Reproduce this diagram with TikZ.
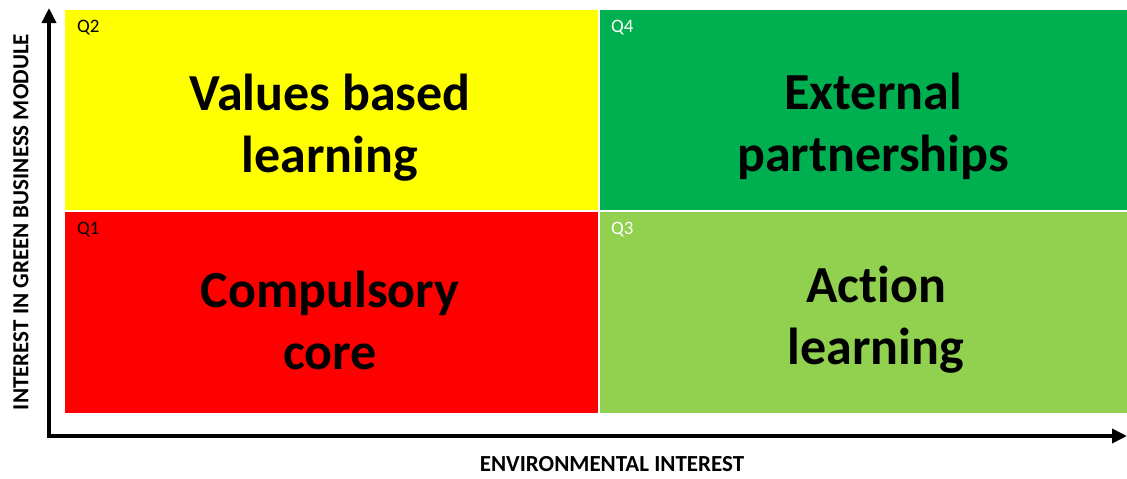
\documentclass[tikz,border=0pt]{standalone}
\usepackage{fontspec}
\setmainfont{Carlito}[Ligatures={NoCommon,NoRare}]
\usepackage{tikz}
\usetikzlibrary{arrows.meta}
\usetikzlibrary{positioning}

\definecolor{qyellow}{HTML}{FFFF00}
\definecolor{qred}{HTML}{FF0000}
\definecolor{qdark}{HTML}{00B050}
\definecolor{qlight}{HTML}{92D050}

\begin{document}
\begin{tikzpicture}[x=1pt, y=-1pt,
	quad/.style={draw=none, anchor=north west, minimum width=533pt, minimum height=200pt, inner sep=0pt},
	title/.style={inner sep=0pt, align=center, font=\fontsize{52}{62}\selectfont\bfseries},
	tag/.style={anchor=north west, inner sep=0pt, font=\fontsize{19}{19}\selectfont},
	axislabel/.style={inner sep=0pt, font=\fontsize{23}{23}\selectfont\bfseries}]
	\useasboundingbox (0,0) rectangle (1127,479);
	% the four quadrants
	\node[quad, fill=qyellow] (q2) at (65,10) {};
	\node[quad, fill=qdark, minimum width=527pt] (q4) at (600,10) {};
	\node[quad, fill=qred, minimum height=201pt] (q1) at (65,212) {};
	\node[quad, fill=qlight, minimum width=527pt, minimum height=201pt] (q3) at (600,212) {};
	% quadrant titles
	\node[title] (v2) at (330,128) {Values based\\learning};
	\node[title] (v4) at (873,126) {External\\partnerships};
	\node[title] (v1) at (330,320) {Compulsory\\core};
	\node[title] (v3) at (876,320) {Action\\learning};
	% quadrant numbers
	\node[tag] (t2) at (77,20) {Q2};
	\node[tag, white] (t4) at (611,20) {Q4};
	\node[tag] (t1) at (77,222) {Q1};
	\node[tag, white] (t3) at (611,222) {Q3};
	% axes
	\coordinate (top) at (49,8);
	\coordinate (origin) at (49,436);
	\coordinate (right) at (1127,436);
	\draw[line width=3.5pt, {Triangle[length=15pt,width=14pt]}-{Triangle[length=15pt,width=14pt]}]
		(top) -- (origin) -- (right);
	\node[axislabel] (xlab) at (612,464) {ENVIRONMENTAL INTEREST};
	\node[axislabel, rotate=90] (ylab) at (21,222) {INTEREST IN GREEN BUSINESS MODULE};
\end{tikzpicture}
\end{document}
